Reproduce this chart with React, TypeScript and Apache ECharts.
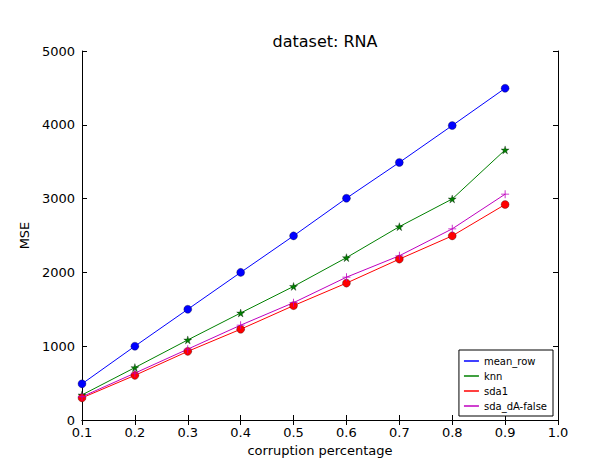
import React, { useEffect, useRef } from "react";
import * as echarts from "echarts";

const xValues = [0.1, 0.2, 0.3, 0.4, 0.5, 0.6, 0.7, 0.8, 0.9];
const meanRow = [490, 1000, 1500, 2000, 2495, 3005, 3490, 3990, 4495];
const knn = [340, 710, 1085, 1450, 1810, 2200, 2620, 2995, 3660];
const sda1 = [300, 605, 930, 1230, 1550, 1855, 2180, 2495, 2920];
const sdaDA = [315, 635, 960, 1285, 1590, 1935, 2225, 2590, 3060];

const seriesNames = ["mean_row", "knn", "sda1", "sda_dA-false"];
const seriesColors = ["#0000ff", "#008000", "#ff0000", "#bf00bf"];

const STAR =
  "path://M50,0 L61,35 L98,35 L68,57 L79,91 L50,70 L21,91 L32,57 L2,35 L39,35 Z";
const PLUS = "path://M45,0 L55,0 L55,45 L100,45 L100,55 L55,55 L55,100 L45,100 L45,55 L0,55 L0,45 L45,45 Z";

export default function App() {
  const ref = useRef<HTMLDivElement>(null);
  useEffect(() => {
    const chart = echarts.init(ref.current!, null, { renderer: "svg" });
    const pts = (ys: number[]) => xValues.map((x, i) => [x, ys[i]]);
    const tickStyle = { show: true, inside: true, length: 5, lineStyle: { color: "#000" } };
    const lineStyle = { color: "#000", width: 1 };
    const fmt = (v: number) => v.toFixed(1);
    chart.setOption({
      animation: false,
      backgroundColor: "#fff",
      textStyle: { fontFamily: "DejaVu Sans" },
      title: {
        text: "dataset: RNA",
        left: 320,
        textAlign: "center",
        top: 28,
        textStyle: { fontSize: 16, fontWeight: "normal", color: "#000", fontFamily: "DejaVu Sans" },
      },
      grid: { left: 82, right: 55, top: 51, bottom: 43 },
      xAxis: [
        {
          type: "value",
          min: 0.1,
          max: 1.0,
          interval: 0.1,
          name: "corruption percentage",
          nameLocation: "middle",
          nameGap: 23,
          nameTextStyle: { fontSize: 13, color: "#000" },
          axisLine: { show: true, lineStyle },
          axisTick: tickStyle,
          splitLine: { show: false },
          axisLabel: { formatter: fmt, fontSize: 13, color: "#000", margin: 6 },
        },
        {
          type: "value",
          position: "top",
          min: 0.1,
          max: 1.0,
          interval: 0.1,
          axisLine: { show: true, lineStyle },
          axisTick: tickStyle,
          splitLine: { show: false },
          axisLabel: { show: false },
        },
      ],
      yAxis: [
        {
          type: "value",
          min: 0,
          max: 5000,
          interval: 1000,
          name: "MSE",
          nameLocation: "middle",
          nameGap: 40,
          nameTextStyle: { fontSize: 13, color: "#000" },
          axisLine: { show: true, lineStyle },
          axisTick: tickStyle,
          splitLine: { show: false },
          axisLabel: { formatter: (v: number) => String(v), fontSize: 13, color: "#000", margin: 7 },
        },
        {
          type: "value",
          position: "right",
          min: 0,
          max: 5000,
          interval: 1000,
          axisLine: { show: true, lineStyle },
          axisTick: tickStyle,
          splitLine: { show: false },
          axisLabel: { show: false },
        },
      ],
      legend: {
        orient: "vertical",
        right: 60,
        bottom: 47,
        backgroundColor: "#fff",
        borderColor: "#000",
        borderWidth: 1,
        borderRadius: 0,
        padding: [6, 6, 5, 5],
        itemGap: 5,
        itemWidth: 15,
        itemHeight: 1.5,
        icon: "rect",
        textStyle: { fontSize: 10, color: "#000", fontFamily: "DejaVu Sans" },
        data: seriesNames.map((n, i) => ({
          name: n,
          itemStyle: { color: seriesColors[i], borderWidth: 0 },
        })),
      },
      series: [
        {
          name: seriesNames[0],
          type: "line",
          data: pts(meanRow),
          symbol: "circle",
          symbolSize: 8,
          itemStyle: { color: seriesColors[0], borderColor: "#000", borderWidth: 0.3 },
          lineStyle: { color: seriesColors[0], width: 1 },
        },
        {
          name: seriesNames[1],
          type: "line",
          data: pts(knn),
          symbol: STAR,
          symbolSize: 8,
          itemStyle: { color: seriesColors[1], borderColor: "#000", borderWidth: 0.3 },
          lineStyle: { color: seriesColors[1], width: 1 },
        },
        {
          name: seriesNames[2],
          type: "line",
          data: pts(sda1),
          symbol: "circle",
          symbolSize: 8,
          itemStyle: { color: seriesColors[2], borderColor: "#000", borderWidth: 0.3 },
          lineStyle: { color: seriesColors[2], width: 1 },
        },
        {
          name: seriesNames[3],
          type: "line",
          data: pts(sdaDA),
          symbol: PLUS,
          symbolSize: 8,
          itemStyle: { color: seriesColors[3] },
          lineStyle: { color: seriesColors[3], width: 1 },
        },
      ],
    });
    return () => chart.dispose();
  }, []);
  return <div ref={ref} style={{ width: 613, height: 463, position: "absolute", left: 0, top: 0 }} />;
}
